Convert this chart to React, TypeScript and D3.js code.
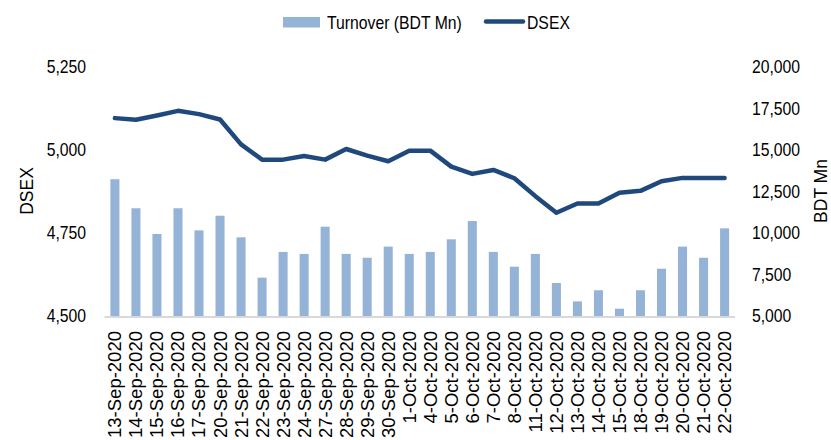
import { useEffect, useRef } from "react";
import * as d3 from "d3";

const dates = [
  "13-Sep-2020", "14-Sep-2020", "15-Sep-2020", "16-Sep-2020", "17-Sep-2020",
  "20-Sep-2020", "21-Sep-2020", "22-Sep-2020", "23-Sep-2020", "24-Sep-2020",
  "27-Sep-2020", "28-Sep-2020", "29-Sep-2020", "30-Sep-2020", "1-Oct-2020",
  "4-Oct-2020", "5-Oct-2020", "6-Oct-2020", "7-Oct-2020", "8-Oct-2020",
  "11-Oct-2020", "12-Oct-2020", "13-Oct-2020", "14-Oct-2020", "15-Oct-2020",
  "18-Oct-2020", "19-Oct-2020", "20-Oct-2020", "21-Oct-2020", "22-Oct-2020",
];

const turnover = [
  13240, 11490, 9940, 11490, 10160, 11040, 9740, 7310, 8860, 8740,
  10380, 8740, 8510, 9180, 8740, 8860, 9620, 10720, 8860, 7970,
  8740, 6990, 5880, 6550, 5440, 6550, 7850, 9180, 8510, 10280,
];

const dsex = [
  5096, 5091, 5104, 5118, 5108, 5092, 5017, 4971, 4971, 4982,
  4971, 5003, 4983, 4966, 4998, 4998, 4950, 4928, 4940, 4915,
  4861, 4811, 4839, 4839, 4871, 4877, 4906, 4916, 4916, 4916,
];

const leftTicks = [4500, 4750, 5000, 5250];
const rightTicks = [5000, 7500, 10000, 12500, 15000, 17500, 20000];

const BAR = "#95b3d7";
const LINE = "#1f497d";
const FONT = "'Liberation Sans', Arial, sans-serif";

const App = () => {
  const ref = useRef<SVGSVGElement>(null);

  useEffect(() => {
    const svg = d3.select(ref.current);
    svg.selectAll("*").remove();

    const left = 104.5, right = 735, top = 67, bottom = 316;

    const x = d3.scaleBand().domain(dates).range([left, right]).paddingInner(0.57).paddingOuter(0.28);
    const yL = d3.scaleLinear().domain([4500, 5250]).range([bottom, top]);
    const yR = d3.scaleLinear().domain([5000, 20000]).range([bottom, top]);
    const fmt = d3.format(",");

    // bars
    svg.append("g")
      .selectAll("rect")
      .data(turnover)
      .enter()
      .append("rect")
      .attr("x", (d, i) => x(dates[i]) as number)
      .attr("width", x.bandwidth())
      .attr("y", (d) => yR(d))
      .attr("height", (d) => bottom - yR(d))
      .attr("fill", BAR);

    // baseline
    svg.append("line")
      .attr("x1", left).attr("x2", right)
      .attr("y1", bottom + 1).attr("y2", bottom + 1)
      .attr("stroke", "#d9d9d9").attr("stroke-width", 2);

    // line
    const line = d3.line<number>()
      .x((d, i) => (x(dates[i]) as number) + x.bandwidth() / 2)
      .y((d) => yL(d));
    svg.append("path")
      .datum(dsex)
      .attr("d", line)
      .attr("fill", "none")
      .attr("stroke", LINE)
      .attr("stroke-width", 4.5)
      .attr("stroke-linejoin", "round")
      .attr("stroke-linecap", "round");

    // left axis labels
    svg.append("g")
      .selectAll("text")
      .data(leftTicks)
      .enter()
      .append("text")
      .attr("transform", (d) => `translate(86,${yL(d)}) scale(0.9,1)`)
      .attr("dy", "0.35em")
      .attr("text-anchor", "end")
      .attr("font-family", FONT)
      .attr("font-size", 17.5)
      .attr("fill", "#000")
      .text((d) => fmt(d));

    // right axis labels
    svg.append("g")
      .selectAll("text")
      .data(rightTicks)
      .enter()
      .append("text")
      .attr("transform", (d) => `translate(752,${yR(d)}) scale(0.9,1)`)
      .attr("dy", "0.35em")
      .attr("text-anchor", "start")
      .attr("font-family", FONT)
      .attr("font-size", 17.5)
      .attr("fill", "#000")
      .text((d) => fmt(d));

    // x labels
    svg.append("g")
      .selectAll("text")
      .data(dates)
      .enter()
      .append("text")
      .attr("transform", (d) => `translate(${(x(d) as number) + x.bandwidth() / 2},331) rotate(-90)`)
      .attr("dy", "0.35em")
      .attr("text-anchor", "end")
      .attr("font-family", FONT)
      .attr("font-size", 18.5)
      .attr("fill", "#000")
      .text((d) => d);

    // axis titles
    svg.append("text")
      .attr("transform", "translate(27,191) rotate(-90)")
      .attr("dy", "0.35em")
      .attr("text-anchor", "middle")
      .attr("font-family", FONT)
      .attr("font-size", 17.5)
      .text("DSEX");
    svg.append("text")
      .attr("transform", "translate(821,191) rotate(-90)")
      .attr("dy", "0.35em")
      .attr("text-anchor", "middle")
      .attr("font-family", FONT)
      .attr("font-size", 17.5)
      .text("BDT Mn");

    // legend
    const lg = svg.append("g").attr("font-family", FONT).attr("font-size", 19);
    lg.append("rect").attr("x", 283).attr("y", 17).attr("width", 37).attr("height", 10.5).attr("fill", BAR);
    lg.append("text").attr("transform", "translate(327,28.5) scale(0.83,1)").text("Turnover (BDT Mn)");
    lg.append("line").attr("x1", 486).attr("x2", 523).attr("y1", 21.5).attr("y2", 21.5)
      .attr("stroke", LINE).attr("stroke-width", 4.5).attr("stroke-linecap", "round");
    lg.append("text").attr("transform", "translate(527,28.5) scale(0.83,1)").text("DSEX");
  }, []);

  return (
    <svg ref={ref} width={831} height={440} style={{ position: "absolute", left: 0, top: 0, background: "#fff" }} />
  );
};

export default App;
